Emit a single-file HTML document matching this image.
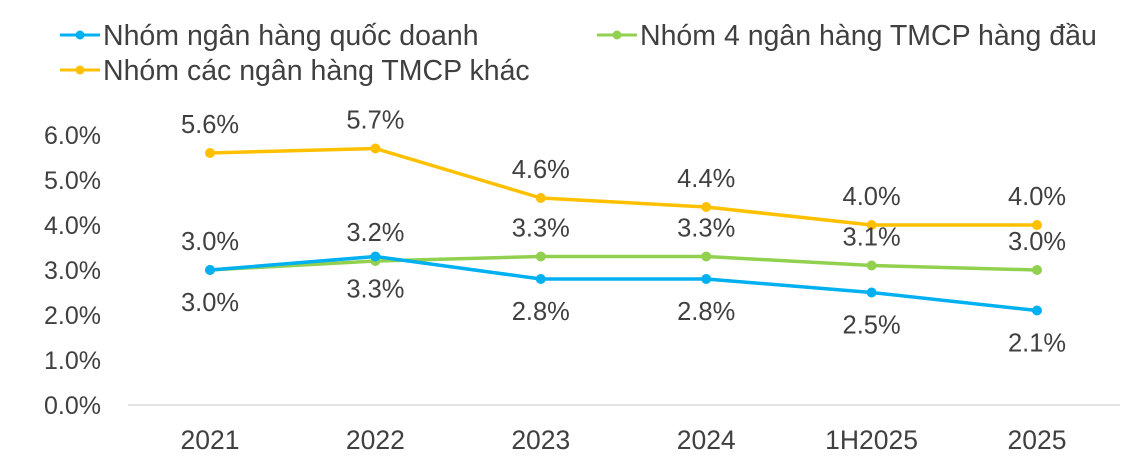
<!DOCTYPE html>
<html><head><meta charset="utf-8"><style>
body{margin:0;background:#fff;font-family:"Liberation Sans",sans-serif;}
svg text{font-family:"Liberation Sans",sans-serif;fill:#404040;}
</style></head><body>
<svg id="chart" width="1146" height="469" viewBox="0 0 1146 469" xmlns="http://www.w3.org/2000/svg">
<g>
<g>
<line x1="60" y1="35" x2="100" y2="35" stroke="#00b0f0" stroke-width="3"/><circle cx="80" cy="35" r="4.5" fill="#00b0f0"/>
<text x="103" y="45" font-size="28.5">Nhóm ngân hàng quốc doanh</text></g>
<g>
<line x1="597" y1="35" x2="637" y2="35" stroke="#92d050" stroke-width="3"/><circle cx="617" cy="35" r="4.5" fill="#92d050"/>
<text x="640" y="45" font-size="28.5">Nhóm 4 ngân hàng TMCP hàng đầu</text></g>
<g>
<line x1="60" y1="70" x2="100" y2="70" stroke="#ffc000" stroke-width="3"/><circle cx="80" cy="70" r="4.5" fill="#ffc000"/>
<text x="103" y="80" font-size="28.5">Nhóm các ngân hàng TMCP khác</text></g>
</g>
<g id="axes"></g>
<g id="series"></g>
</svg>
<script>
const categories=["2021","2022","2023","2024","1H2025","2025"];
const quocDoanh=[3.0,3.3,2.8,2.8,2.5,2.1];
const top4=[3.0,3.2,3.3,3.3,3.1,3.0];
const tmcpKhac=[5.6,5.7,4.6,4.4,4.0,4.0];
const yTicks=[0,1,2,3,4,5,6];
const NS="http://www.w3.org/2000/svg";
function x(i){return 210+i*165.4;}
function y(v){return 405-v*45;}
const axes=document.getElementById('axes'),series=document.getElementById('series');
function mk(tag,attrs,parent){const e=document.createElementNS(NS,tag);for(const k in attrs)e.setAttribute(k,attrs[k]);parent.appendChild(e);return e;}
const base=mk('line',{x1:128,x2:1120,y1:y(0),y2:y(0),stroke:'#d9d9d9','stroke-width':1.5},axes);


yTicks.forEach(t=>{const e=mk('text',{x:101,y:y(t)+9,'font-size':25,'text-anchor':'end'},axes);e.textContent=t.toFixed(1)+'%';

});
categories.forEach((c,i)=>{const e=mk('text',{x:x(i),y:449,'font-size':26.5,'text-anchor':'middle'},axes);e.textContent=c;

});
function draw(vals,color,name,above){
const p=mk('polyline',{points:vals.map((v,i)=>x(i)+','+y(v)).join(' '),fill:'none',stroke:color,'stroke-width':3.5,'stroke-linejoin':'round'},series);


vals.forEach((v,i)=>{const c=mk('circle',{cx:x(i),cy:y(v),r:5,fill:color},series);


const t=mk('text',{x:x(i),y:above?y(v)-20:y(v)+41,'font-size':25.5,'text-anchor':'middle'},series);t.textContent=v.toFixed(1)+'%';

});}
draw(tmcpKhac,'#ffc000','tmcp-khac',true);
draw(top4,'#92d050','top4',true);
draw(quocDoanh,'#00b0f0','quoc-doanh',false);
</script>
</body></html>
